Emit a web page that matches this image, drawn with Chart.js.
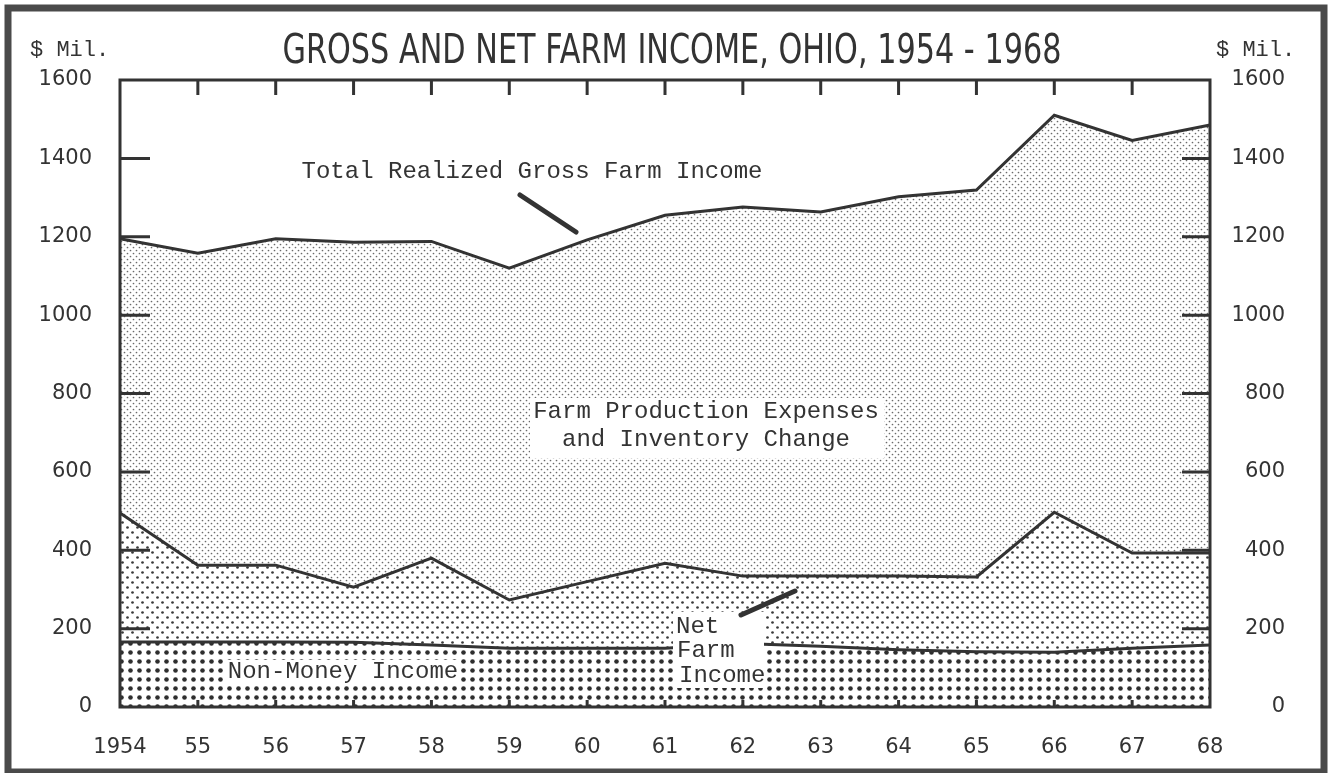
<!DOCTYPE html>
<html>
<head>
<meta charset="utf-8">
<title>Gross and Net Farm Income, Ohio, 1954 - 1968</title>
<script src="https://cdn.jsdelivr.net/npm/chart.js@4"></script>
<style>
  html, body { margin: 0; padding: 0; background: #fff; }
  canvas { display: block; }
</style>
</head>
<body>
<canvas id="myChart" width="1332" height="773"></canvas>
<script>
// values, $ million
var years = ['1954', '55', '56', '57', '58', '59', '60', '61', '62', '63', '64', '65', '66', '67', '68'];
var grossFarmIncome = [1195, 1158, 1195, 1186, 1188, 1120, 1192, 1255, 1276, 1263, 1302, 1319, 1510, 1446, 1485];
var netFarmIncome = [495, 362, 362, 306, 380, 273, 320, 367, 334, 334, 334, 332, 497, 393, 393];
var nonMoneyIncome = [166, 166, 166, 165, 158, 150, 150, 150, 162, 155, 146, 141, 140, 150, 158];
var yTicks = [0, 200, 400, 600, 800, 1000, 1200, 1400, 1600];

var ink = '#333';
var labelFont = { family: "'DejaVu Sans', sans-serif", size: 21 };

function dotPattern(size, dots, r, color) {
    var c = document.createElement('canvas');
    c.width = size;
    c.height = size;
    var g = c.getContext('2d');
    g.fillStyle = '#fff';
    g.fillRect(0, 0, size, size);
    g.fillStyle = color;
    dots.forEach(function (d) {
        g.beginPath();
        g.arc(d[0], d[1], r, 0, Math.PI * 2);
        g.fill();
    });
    return g.createPattern(c, 'repeat');
}

var finePattern = dotPattern(6, [[1.5, 1.5], [4.5, 4.5]], 0.85, '#6a6a6a');
var mediumPattern = dotPattern(10, [[2.5, 2.5], [7.5, 7.5]], 1.35, '#3a3a3a');
var coarsePattern = dotPattern(9, [[4.5, 4.5]], 2.3, '#2e2e2e');

// frame, inward ticks, title and the hand-lettered notes
var decorations = {
    id: 'decorations',
    afterDraw: function (chart) {
        var ctx = chart.ctx;
        var a = chart.chartArea;
        var x = chart.scales.x;
        var y = chart.scales.y;
        ctx.save();

        // white boxes behind the notes
        ctx.fillStyle = '#fff';
        ctx.fillRect(530, 398, 354, 60);
        ctx.fillRect(226, 660, 234, 25);
        ctx.fillRect(673, 612, 91, 76);

        ctx.fillStyle = ink;
        ctx.textBaseline = 'middle';
        ctx.textAlign = 'center';
        ctx.font = "24px 'Liberation Mono', monospace";
        ctx.fillText('Total Realized Gross Farm Income', 532, 172);
        ctx.fillText('Farm Production Expenses', 706, 412);
        ctx.fillText('and Inventory Change', 706, 440);
        ctx.fillText('Non-Money Income', 343, 672);
        ctx.textAlign = 'left';
        ctx.fillText('Net', 676, 627);
        ctx.fillText('Farm', 677, 651);
        ctx.fillText('Income', 679, 676);

        // pointers
        ctx.strokeStyle = ink;
        ctx.lineCap = 'round';
        ctx.lineWidth = 5;
        ctx.beginPath();
        ctx.moveTo(520, 195);
        ctx.lineTo(576, 232);
        ctx.moveTo(741, 615);
        ctx.lineTo(795, 591);
        ctx.stroke();

        // $ Mil. captions
        ctx.font = "22px 'Liberation Mono', monospace";
        ctx.textAlign = 'left';
        ctx.fillText('$ Mil.', 30, 50);
        ctx.fillText('$ Mil.', 1216, 50);

        // title, condensed
        ctx.font = "40px 'DejaVu Sans', sans-serif";
        ctx.textBaseline = 'alphabetic';
        ctx.textAlign = 'center';
        var title = 'GROSS AND NET FARM INCOME, OHIO, 1954 - 1968';
        var w = ctx.measureText(title).width;
        ctx.save();
        ctx.translate(672, 63);
        ctx.scale(779 / w, 1);
        ctx.fillText(title, 0, 0);
        ctx.restore();

        // plot frame
        ctx.lineCap = 'butt';
        ctx.lineWidth = 3;
        ctx.strokeRect(a.left, a.top, a.right - a.left, a.bottom - a.top);

        // inward ticks
        ctx.beginPath();
        yTicks.forEach(function (v) {
            if (v === 0 || v === 1600) return;
            var py = y.getPixelForValue(v);
            ctx.moveTo(a.left, py);
            ctx.lineTo(a.left + 30, py);
            ctx.moveTo(a.right, py);
            ctx.lineTo(a.right - 28, py);
        });
        years.forEach(function (lbl, i) {
            if (i === 0 || i === years.length - 1) return;
            var px = x.getPixelForValue(i);
            ctx.moveTo(px, a.top);
            ctx.lineTo(px, a.top + 15);
            ctx.moveTo(px, a.bottom);
            ctx.lineTo(px, a.bottom - 7);
        });
        ctx.stroke();

        // outer border
        ctx.strokeStyle = '#4a4a4a';
        ctx.lineWidth = 7;
        ctx.strokeRect(8, 8, 1316, 764);
        ctx.restore();
    }
};

function plainNumber(v) {
    return String(v);
}

var ctx = document.getElementById('myChart').getContext('2d');
var incomeChart = new Chart(ctx, {
    type: 'line',
    data: {
        labels: years,
        datasets: [
            {
                label: 'Non-Money Income',
                data: nonMoneyIncome,
                fill: 'origin',
                backgroundColor: coarsePattern,
                borderColor: ink,
                borderWidth: 3
            },
            {
                label: 'Net Farm Income',
                data: netFarmIncome,
                fill: '-1',
                backgroundColor: mediumPattern,
                borderColor: ink,
                borderWidth: 3
            },
            {
                label: 'Total Realized Gross Farm Income',
                data: grossFarmIncome,
                fill: '-1',
                backgroundColor: finePattern,
                borderColor: ink,
                borderWidth: 3
            }
        ]
    },
    options: {
        responsive: false,
        animation: false,
        events: [],
        elements: {
            point: { radius: 0 },
            line: { tension: 0 }
        },
        layout: { padding: { top: 80, left: 0, right: 47, bottom: 0 } },
        plugins: {
            legend: { display: false },
            title: { display: false },
            tooltip: { enabled: false }
        },
        scales: {
            x: {
                type: 'category',
                offset: false,
                grid: { display: false },
                border: { display: false },
                ticks: { color: ink, font: labelFont, padding: 20, maxRotation: 0, autoSkip: false },
                afterFit: function (s) { s.height = 66; }
            },
            y: {
                position: 'left',
                min: 0,
                max: 1600,
                grid: { display: false },
                border: { display: false },
                ticks: { stepSize: 200, color: ink, font: labelFont, padding: 20, callback: plainNumber },
                afterFit: function (s) { s.width = 120; }
            },
            y2: {
                position: 'right',
                min: 0,
                max: 1600,
                grid: { display: false },
                border: { display: false },
                ticks: { stepSize: 200, color: ink, font: labelFont, padding: 18, crossAlign: 'far', callback: plainNumber },
                afterFit: function (s) { s.width = 75; }
            }
        }
    },
    plugins: [decorations]
});
</script>
</body>
</html>
